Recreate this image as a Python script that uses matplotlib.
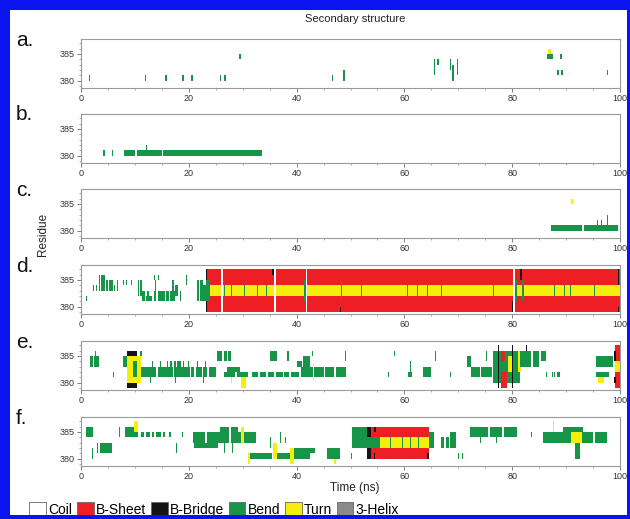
import numpy as np
import matplotlib
matplotlib.use("Agg")
import matplotlib.pyplot as plt
from matplotlib.colors import ListedColormap, BoundaryNorm
from matplotlib.patches import Patch, Rectangle

plt.rcParams['font.family'] = ['Liberation Sans', 'DejaVu Sans']

# ---------------- data ----------------
STATE_NAMES = ['Coil', 'B-Sheet', 'B-Bridge', 'Bend', 'Turn', '3-Helix']
STATE_CODES = ['C', 'E', 'B', 'S', 'T', 'G']
STATE_COLORS = ['#ffffff', '#ee1f24', '#141414', '#169447', '#f3ee0a', '#8a8a8a']
RESIDUES = [379, 380, 381, 382, 383, 384, 385, 386]
PANEL_LABELS = ['a.', 'b.', 'c.', 'd.', 'e.', 'f.']
X_TICKS = [0, 20, 40, 60, 80, 100]
Y_TICKS = [380, 385]

# blocks: (state, t_start_ns, t_end_ns, first_residue, last_residue); later blocks overwrite earlier
panel_a = [
    ('S', 1.4, 1.7, 380, 380), ('S', 11.8, 12.1, 380, 380), ('S', 15.6, 15.9, 380, 380),
    ('S', 18.8, 19.1, 380, 380), ('S', 20.4, 20.7, 380, 380), ('S', 25.7, 26.0, 380, 380),
    ('S', 26.6, 26.9, 380, 380), ('S', 29.3, 29.6, 384, 384), ('S', 46.5, 46.8, 380, 380),
    ('S', 48.6, 48.9, 380, 381), ('S', 65.4, 65.7, 381, 383), ('S', 66.1, 66.4, 383, 383),
    ('S', 68.4, 68.7, 382, 383), ('S', 68.9, 69.2, 380, 382), ('S', 69.7, 70.0, 381, 383),
    ('S', 86.4, 87.6, 384, 384), ('T', 86.6, 87.2, 385, 385), ('S', 88.9, 89.2, 384, 384),
    ('S', 88.3, 88.6, 381, 381), ('S', 89.1, 89.4, 381, 381), ('S', 97.5, 97.8, 381, 381),
]

panel_b = [
    ('S', 4.0, 4.5, 380, 380), ('S', 5.8, 6.0, 380, 380),
    ('S', 8.0, 10.0, 380, 380), ('S', 10.3, 15.0, 380, 380), ('S', 15.2, 33.5, 380, 380),
    ('S', 12.0, 12.2, 381, 381),
]

panel_c = [
    ('S', 87.2, 93.0, 380, 380), ('S', 93.4, 99.7, 380, 380),
    ('S', 95.8, 96.0, 381, 381), ('S', 96.5, 96.7, 381, 381), ('S', 97.6, 97.8, 381, 382),
    ('T', 91.0, 91.2, 385, 385),
]

panel_d = [
    ('S', 1.0, 1.2, 381, 381),
    ('S', 2.3, 2.5, 383, 383), ('S', 2.7, 3.0, 383, 383), ('S', 3.4, 3.6, 383, 385),
    ('S', 3.8, 4.5, 383, 385), ('S', 4.7, 5.0, 383, 384),
    ('S', 5.2, 5.9, 383, 384), ('S', 6.1, 6.4, 383, 383), ('S', 6.6, 6.8, 383, 384),
    ('S', 7.8, 8.0, 384, 384), ('S', 8.3, 8.5, 384, 384), ('S', 9.3, 9.5, 384, 384),
    ('S', 10.6, 10.8, 382, 384), ('S', 11.0, 11.3, 382, 384),
    ('S', 11.3, 11.8, 381, 382), ('S', 12.0, 13.2, 381, 381), ('S', 12.3, 12.6, 382, 382),
    ('S', 13.5, 14.0, 381, 382), ('S', 14.2, 15.5, 381, 382), ('S', 15.8, 16.4, 381, 382),
    ('S', 16.6, 17.4, 381, 382),
    ('S', 13.5, 13.7, 385, 385), ('S', 14.2, 14.4, 385, 385), ('S', 13.7, 13.9, 383, 384),
    ('S', 16.9, 17.2, 382, 384), ('S', 17.5, 18.0, 382, 383),
    ('S', 18.3, 18.5, 381, 382), ('S', 19.5, 19.7, 384, 385), ('S', 21.5, 21.8, 381, 384),
    ('S', 22.0, 22.7, 381, 384), ('S', 22.4, 23.1, 381, 383),
    ('E', 23.1, 100.0, 379, 381), ('T', 23.1, 100.0, 382, 383), ('E', 23.1, 100.0, 384, 386),
    ('S', 23.1, 24.0, 381, 384), ('B', 23.1, 23.4, 379, 380), ('B', 23.1, 23.4, 385, 386),
    ('C', 25.9, 26.3, 379, 386), ('C', 35.8, 36.2, 379, 386), ('C', 41.7, 42.0, 379, 386),
    ('C', 80.2, 80.5, 379, 386),
    ('S', 26.6, 26.8, 382, 383), ('S', 27.9, 28.1, 382, 383), ('S', 30.3, 30.5, 382, 383),
    ('S', 32.6, 32.8, 382, 383), ('S', 34.4, 34.6, 382, 383), ('S', 41.4, 41.7, 381, 384),
    ('S', 48.2, 48.5, 381, 384), ('S', 51.9, 52.2, 382, 383), ('S', 60.5, 60.7, 382, 383),
    ('S', 62.4, 62.6, 382, 383), ('S', 64.2, 64.4, 382, 383), ('S', 66.8, 67.0, 382, 383),
    ('S', 76.5, 76.7, 382, 383), ('S', 80.5, 80.8, 381, 384), ('S', 81.8, 82.1, 381, 384),
    ('S', 87.7, 87.9, 382, 383), ('S', 89.6, 89.8, 382, 383), ('S', 90.7, 90.9, 382, 383),
    ('S', 95.1, 95.3, 382, 383),
    ('B', 35.5, 35.8, 386, 386), ('B', 48.0, 48.2, 379, 379), ('B', 79.9, 80.2, 379, 380),
    ('B', 81.5, 81.8, 385, 386), ('B', 99.6, 99.9, 384, 386), ('B', 99.6, 99.9, 379, 379),
]

panel_e = [
    ('S', 1.6, 2.2, 383, 384), ('S', 2.4, 3.3, 383, 384), ('S', 2.6, 2.8, 385, 385),
    ('S', 5.9, 6.1, 381, 381), ('S', 7.8, 8.5, 383, 384),
    ('T', 8.5, 11.2, 380, 384), ('B', 8.6, 10.3, 385, 385), ('B', 8.6, 10.3, 379, 379),
    ('S', 9.6, 10.3, 381, 383), ('S', 11.0, 11.3, 385, 385),
    ('S', 11.2, 14.0, 381, 382), ('S', 14.2, 17.0, 381, 382), ('S', 17.2, 20.2, 381, 382),
    ('S', 20.5, 21.0, 381, 382), ('S', 21.3, 22.4, 381, 382),
    ('S', 22.7, 23.4, 381, 382), ('S', 23.7, 25.0, 381, 382),
    ('S', 13.2, 13.4, 383, 383), ('S', 14.6, 14.8, 383, 383), ('S', 16.0, 16.2, 383, 383),
    ('S', 16.6, 16.8, 383, 383), ('S', 17.3, 17.6, 383, 383), ('S', 17.9, 18.5, 383, 383),
    ('S', 19.0, 19.2, 383, 383),
    ('S', 19.8, 20.0, 383, 383), ('S', 21.5, 21.7, 383, 383), ('S', 23.0, 23.2, 383, 383),
    ('S', 12.8, 13.0, 380, 380), ('S', 17.4, 17.6, 380, 380), ('S', 22.6, 22.8, 380, 380),
    ('S', 25.3, 26.2, 384, 385), ('S', 26.5, 27.0, 384, 385), ('S', 27.3, 27.9, 384, 385),
    ('S', 26.6, 28.6, 381, 381), ('S', 28.9, 31.0, 381, 381), ('S', 27.0, 29.5, 382, 382),
    ('T', 27.8, 28.1, 380, 380), ('T', 29.7, 30.6, 379, 380),
    ('S', 31.7, 32.8, 381, 381), ('S', 33.2, 34.3, 381, 381), ('S', 34.7, 35.8, 381, 381),
    ('S', 36.2, 37.4, 381, 381), ('S', 35.0, 36.3, 384, 385), ('S', 38.3, 38.5, 384, 385),
    ('S', 40.0, 41.0, 383, 383), ('S', 41.2, 42.5, 383, 384), ('S', 42.9, 43.1, 385, 385),
    ('S', 37.6, 38.5, 381, 381), ('S', 38.9, 40.5, 381, 381), ('S', 40.8, 43.0, 381, 382),
    ('S', 43.3, 45.0, 381, 382), ('S', 45.3, 47.0, 381, 382), ('S', 47.3, 49.2, 381, 382),
    ('S', 48.9, 49.1, 384, 385),
    ('S', 56.9, 57.1, 381, 381), ('S', 58.0, 58.2, 385, 385), ('S', 60.6, 61.4, 381, 381),
    ('S', 61.1, 61.3, 382, 383), ('S', 63.5, 65.0, 381, 382), ('S', 65.6, 65.8, 384, 385),
    ('S', 68.4, 68.6, 381, 381), ('S', 71.6, 72.4, 383, 384), ('S', 72.3, 74.0, 381, 382),
    ('S', 74.3, 76.3, 381, 382), ('S', 75.2, 75.4, 384, 385),
    ('S', 76.5, 81.5, 380, 385), ('E', 78.0, 79.0, 379, 381), ('E', 78.0, 78.6, 384, 385),
    ('T', 79.2, 80.0, 382, 384), ('T', 81.0, 81.6, 382, 385),
    ('B', 77.3, 77.6, 379, 386), ('B', 79.9, 80.2, 379, 386), ('B', 82.5, 82.8, 384, 386),
    ('S', 81.5, 83.5, 383, 385), ('S', 83.8, 85.0, 383, 385), ('S', 85.3, 86.3, 384, 385),
    ('S', 86.3, 86.5, 381, 381), ('S', 87.3, 87.5, 381, 381), ('S', 87.8, 88.0, 381, 381),
    ('S', 88.4, 88.8, 381, 381),
    ('S', 95.5, 98.7, 383, 384), ('S', 95.5, 98.0, 381, 381), ('T', 96.0, 97.0, 380, 380),
    ('E', 99.0, 100.0, 379, 381), ('T', 99.0, 100.0, 382, 383), ('E', 99.0, 100.0, 384, 386),
    ('B', 98.9, 99.2, 384, 385), ('B', 98.9, 99.2, 380, 380),
]

panel_f = [
    ('S', 1.0, 2.3, 384, 385), ('S', 2.0, 2.2, 380, 381), ('S', 2.9, 3.1, 381, 382),
    ('S', 3.6, 5.8, 381, 382), ('S', 7.1, 7.3, 384, 385),
    ('S', 8.2, 10.6, 384, 385), ('T', 9.9, 10.5, 385, 386),
    ('S', 11.2, 11.7, 384, 384), ('S', 12.0, 12.8, 384, 384), ('S', 13.2, 13.6, 384, 384),
    ('S', 14.0, 14.8, 384, 384), ('S', 15.2, 15.6, 384, 384), ('S', 16.3, 16.7, 384, 384),
    ('S', 17.6, 17.8, 381, 382), ('S', 18.8, 19.0, 384, 384),
    ('S', 20.8, 23.0, 383, 384), ('S', 23.3, 25.8, 383, 384), ('S', 21.0, 25.5, 382, 382),
    ('S', 25.8, 27.5, 383, 385), ('S', 27.8, 29.2, 383, 385),
    ('S', 26.5, 26.7, 381, 382), ('S', 28.0, 28.2, 381, 382),
    ('S', 29.2, 32.5, 383, 384), ('T', 29.6, 30.2, 383, 385),
    ('S', 31.0, 35.5, 380, 380), ('S', 36.3, 38.8, 380, 380), ('S', 39.5, 42.5, 380, 380),
    ('T', 31.0, 31.4, 379, 380), ('T', 35.7, 36.3, 380, 382), ('T', 38.8, 39.5, 379, 381),
    ('S', 35.0, 35.2, 382, 383), ('S', 36.9, 37.1, 383, 384), ('S', 37.9, 38.1, 383, 383),
    ('S', 39.5, 43.5, 381, 381),
    ('S', 45.6, 48.0, 380, 381), ('T', 47.0, 47.4, 379, 379), ('S', 50.0, 50.2, 380, 380),
    ('S', 50.3, 53.0, 382, 385),
    ('B', 53.0, 53.8, 384, 385), ('E', 53.8, 55.5, 384, 385), ('B', 54.4, 54.7, 385, 385),
    ('S', 53.0, 55.5, 382, 383),
    ('B', 53.0, 53.8, 380, 381), ('E', 53.8, 55.5, 380, 381), ('B', 54.3, 54.6, 380, 380),
    ('E', 55.5, 64.5, 384, 385), ('T', 55.5, 64.5, 382, 383), ('E', 55.5, 64.5, 380, 381),
    ('S', 57.3, 57.5, 382, 383), ('S', 59.5, 59.7, 382, 383), ('S', 61.0, 61.2, 382, 383),
    ('S', 62.5, 62.7, 382, 383),
    ('S', 64.5, 65.5, 382, 384), ('B', 64.2, 64.5, 380, 380),
    ('S', 66.8, 67.3, 382, 383), ('S', 67.8, 68.2, 382, 383), ('S', 68.5, 69.6, 382, 384),
    ('S', 70.0, 70.2, 380, 380), ('S', 70.6, 70.8, 380, 380),
    ('S', 72.1, 75.5, 384, 385), ('S', 75.8, 78.2, 384, 385), ('S', 78.5, 80.8, 384, 385),
    ('S', 74.0, 74.2, 383, 383), ('S', 77.0, 77.2, 383, 383), ('S', 83.5, 83.7, 384, 384),
    ('S', 85.8, 89.5, 383, 384), ('T', 87.5, 87.7, 385, 386),
    ('S', 89.5, 93.2, 383, 385), ('T', 91.0, 93.0, 383, 384), ('S', 91.7, 92.6, 380, 382),
    ('S', 93.2, 95.0, 383, 384), ('S', 95.3, 97.5, 383, 384),
]

PANELS = [panel_a, panel_b, panel_c, panel_d, panel_e, panel_f]

# ---------------- drawing ----------------
DT = 0.1
t_edges = np.arange(0, 100 + DT / 2, DT)
r_edges = np.arange(RESIDUES[0], RESIDUES[-1] + 2)

def build_grid(blocks):
    grid = np.zeros((len(RESIDUES), len(t_edges) - 1), dtype=int)
    for st, t0, t1, r0, r1 in blocks:
        i0 = int(round(t0 / DT))
        i1 = max(i0 + 1, int(round(t1 / DT)))
        grid[r0 - RESIDUES[0]:r1 - RESIDUES[0] + 1, i0:i1] = STATE_CODES.index(st)
    return grid

cmap = ListedColormap(STATE_COLORS)
norm = BoundaryNorm(np.arange(-0.5, len(STATE_COLORS) + 0.5), cmap.N)

W, H = 630, 519
fig = plt.figure(figsize=(W / 100, H / 100), dpi=100)

ax_left, ax_right = 81, 620
tops = [39, 114, 189, 265, 341, 417]
ax_h = 49

for k, (blocks, top) in enumerate(zip(PANELS, tops)):
    ax = fig.add_axes([ax_left / W, 1 - (top + ax_h) / H, (ax_right - ax_left) / W, ax_h / H])
    grid = build_grid(blocks)
    ax.pcolormesh(t_edges, r_edges, grid, cmap=cmap, norm=norm, shading='flat',
                  antialiased=False, rasterized=True)
    ax.set_xlim(0, 100)
    ax.set_ylim(378.6, 387.8)
    ax.set_xticks(X_TICKS)
    ax.set_xticks(np.arange(0, 101, 5), minor=True)
    ax.set_yticks(Y_TICKS)
    ax.set_yticks(RESIDUES + [387], minor=True)
    ax.tick_params(which='major', direction='out', length=3, width=0.6, color='#666666',
                   labelsize=6.5, labelcolor='#333333', pad=1.5)
    ax.tick_params(which='minor', direction='out', length=1.5, width=0.5, color='#888888')
    for sp in ax.spines.values():
        sp.set_color('#999999')
        sp.set_linewidth(0.8)
    fig.text(16 / W, 1 - (top + 1) / H, PANEL_LABELS[k], fontsize=15, ha='left', va='center',
             color='#111111')

fig.text(355 / W, 1 - 19 / H, 'Secondary structure', fontsize=8, ha='center', va='center',
         color='#222222')
fig.text(355 / W, 1 - 488 / H, 'Time (ns)', fontsize=8.5, ha='center', va='center',
         color='#222222')
fig.text(43 / W, 1 - 234 / H, 'Residue', fontsize=8.5, ha='center', va='center',
         rotation=90, color='#222222')

handles = [Patch(facecolor=c, edgecolor='#666666', linewidth=0.6) for c in STATE_COLORS]
fig.legend(handles, STATE_NAMES, loc='lower left', bbox_to_anchor=(28 / W, 1 / H),
           ncol=6, frameon=False, fontsize=10, handlelength=1.2, handleheight=1.1,
           handletextpad=0.15, columnspacing=0.35, borderpad=0.1, borderaxespad=0)

# blue frame
blue = '#0a14f0'
for (x, y, w, h) in [(0, 0, 10, H), (0, H - 10, W, 10), (0, 0, W, 4), (W - 3, 0, 3, H)]:
    fig.patches.append(Rectangle((x / W, y / H), w / W, h / H, transform=fig.transFigure,
                                 facecolor=blue, edgecolor='none', zorder=10))

fig.savefig('out.png', dpi=100)
